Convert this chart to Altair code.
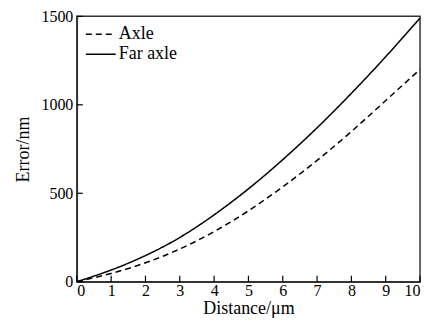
import altair as alt
import pandas as pd

distance = [0, 1, 2, 3, 4, 5, 6, 7, 8, 9, 10]
far_axle = [0, 66, 148, 250, 378, 525, 690, 870, 1065, 1272, 1490]
axle = [0, 47, 107, 185, 283, 401, 536, 686, 849, 1024, 1200]
series_names = ["Axle", "Far axle"]
x_ticks = [0, 1, 2, 3, 4, 5, 6, 7, 8, 9, 10]
y_ticks = [0, 500, 1000, 1500]

W, H = 344, 266
FONT = "Liberation Serif"

rows = []
for d, v in zip(distance, axle):
    rows.append({"Distance": d, "Error": v, "Series": series_names[0]})
for d, v in zip(distance, far_axle):
    rows.append({"Distance": d, "Error": v, "Series": series_names[1]})
df = pd.DataFrame(rows)

xscale = alt.Scale(domain=[0, 10], nice=False)
yscale = alt.Scale(domain=[0, 1500], nice=False)

x_axis = alt.Axis(title="Distance/μm", values=x_ticks, format="d", ticks=False,
                  labelPadding=1, titlePadding=1, grid=False, labelOverlap=False,
                  labelFont=FONT, labelFontSize=16, titleFont=FONT, titleFontSize=18)
y_axis = alt.Axis(title="Error/nm", values=y_ticks, format="d", ticks=False,
                  labelPadding=4, titlePadding=8, grid=False, labelOverlap=False,
                  labelFont=FONT, labelFontSize=16, titleFont=FONT, titleFontSize=18)

lines = alt.Chart(df).mark_line(color="black", strokeWidth=1.5, interpolate="natural").encode(
    x=alt.X("Distance:Q", scale=xscale, axis=x_axis),
    y=alt.Y("Error:Q", scale=yscale, axis=y_axis),
    strokeDash=alt.StrokeDash(
        "Series:N",
        scale=alt.Scale(domain=series_names, range=[[6, 4], [1, 0]]),
        legend=alt.Legend(title=None, orient="none", legendX=13, legendY=7,
                          symbolType="M-1.5,0L1.5,0", symbolSize=400, symbolStrokeWidth=1.5,
                          symbolStrokeColor="black", symbolFillColor="transparent",
                          labelFontSize=18, labelFont=FONT,
                          labelColor="black", labelOffset=7, rowPadding=0, padding=0),
    ),
)

xt = alt.Chart(pd.DataFrame({"Distance": x_ticks})).mark_rule(color="black", strokeWidth=1.2).encode(
    x=alt.X("Distance:Q", scale=xscale, axis=x_axis), y=alt.value(H), y2=alt.value(H - 6)
)
yt = alt.Chart(pd.DataFrame({"Error": y_ticks})).mark_rule(color="black", strokeWidth=1.2).encode(
    y=alt.Y("Error:Q", scale=yscale, axis=y_axis), x=alt.value(0), x2=alt.value(6)
)

chart = alt.layer(lines, xt, yt).properties(
    width=W, height=H, autosize="none",
    padding={"left": 69, "top": 8, "right": 10, "bottom": 36},
).configure_view(
    stroke="#333333", strokeWidth=1.5
).configure_axis(
    domainColor="#333333", domainWidth=1.5,
    labelFont=FONT, titleFont=FONT,
    labelColor="black", titleColor="black", titleFontWeight="normal",
)

chart.save("out.html", embed_options={"renderer": "svg", "actions": False})
